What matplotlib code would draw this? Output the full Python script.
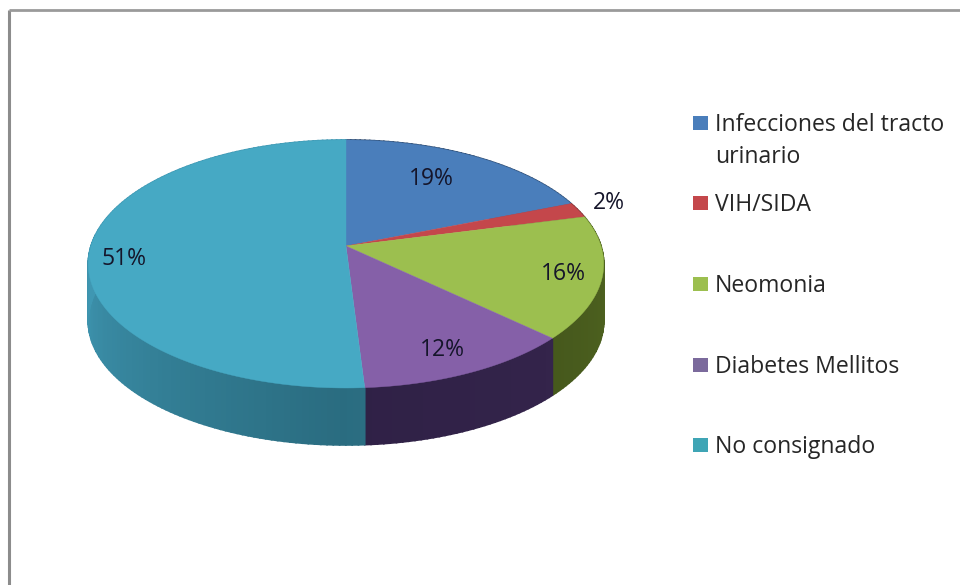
#plot.py
import numpy as np
import matplotlib
matplotlib.use("Agg")
import matplotlib.pyplot as plt

labels=["Infecciones del tracto\nurinario","VIH/SIDA","Neomonia","Diabetes Mellitos","No consignado"]
values=[19,2,16,12,51]
pct_text=["19%","2%","16%","12%","51%"]
colors=["#4a7ebb","#c4474b","#9cbf4f","#8560a8","#46a9c4"]
legend_colors=["#4a7ebb","#c4474b","#9cbf4f","#7b6a9c","#3fa5b5"]
side_near=["#2c4a70","#702a2c","#3c4c18","#2f2146","#2a6c80"]
side_far=["#2c4a70","#702a2c","#4f6420","#38264f","#3f97b2"]

# pixel layout
cx,cy=346,246
rx,ry=255,121.4
persp=0.145
depth=57
pct_pos=[(431,179),(609,203),(563,274),(442,350),(124,259)]
legend_y=[123,203,284,365,445]

def project(theta):
    # theta clockwise from 12 o'clock, radians
    c=np.sin(theta)
    s=-np.cos(theta)
    w=1-persp*s
    return cx+rx*c/w, cy+ry*s/w

def mix(a,b,f):
    a=np.array(matplotlib.colors.to_rgb(a))
    b=np.array(matplotlib.colors.to_rgb(b))
    return tuple(a*(1-f)+b*f)

plt.rcParams["font.family"]=["Open Sans","DejaVu Sans"]

fig=plt.figure(figsize=(9.6,5.85),dpi=100)
ax=fig.add_axes([0,0,1,1])
ax.set_xlim(0,960)
ax.set_ylim(585,0)
ax.axis("off")

# frame, runs off the right and bottom edge
ax.plot([9,9],[585,10],color="#8c8c8c",lw=2.2,solid_capstyle="butt")
ax.plot([9,960],[10,10],color="#9a9a9a",lw=2,solid_capstyle="butt")

edges=np.cumsum([0]+values)/sum(values)*2*np.pi

# sides first
for i in range(len(values)):
    t=np.linspace(edges[i],edges[i+1],max(int(values[i]*3),4))
    x,y=project(t)
    for j in range(len(t)-1):
        f=min(1,abs(t[j]-np.pi)/(np.pi/2))  # 0 at the front, 1 at the far side
        col=mix(side_near[i],side_far[i],f)
        qx=[x[j],x[j+1],x[j+1],x[j]]
        qy=[y[j],y[j+1],y[j+1]+depth,y[j]+depth]
        ax.fill(qx,qy,color=col,lw=1.2)

# top faces
for i in range(len(values)):
    t=np.linspace(edges[i],edges[i+1],max(int(values[i]*3),4))
    x,y=project(t)
    ax.fill(np.r_[cx,x],np.r_[cy,y],color=colors[i],lw=0.3)

for i in range(len(values)):
    ax.text(pct_pos[i][0],pct_pos[i][1],pct_text[i],ha="center",va="center",
            fontsize=16.5,color="#15152a")

# legend
for i in range(len(labels)):
    ax.fill([693,708,708,693],[legend_y[i]-7,legend_y[i]-7,legend_y[i]+7,legend_y[i]+7],
            color=legend_colors[i],lw=0)
    ax.text(715,legend_y[i]-10,labels[i],ha="left",va="top",fontsize=16.6,
            color="#262626",linespacing=1.42)

fig.savefig("out.png",dpi=100)
